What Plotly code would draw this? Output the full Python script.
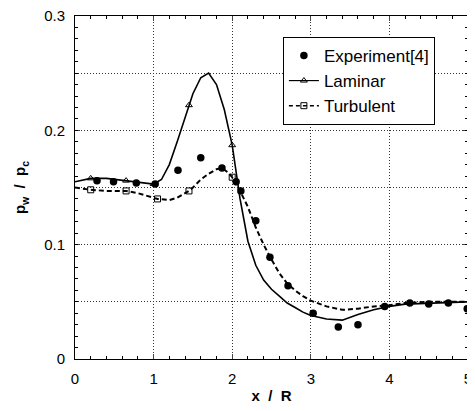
import plotly.graph_objects as go

# Experimental data
exp_x = [0.28, 0.49, 0.78, 1.02, 1.31, 1.60, 1.87, 2.05, 2.11, 2.30, 2.48, 2.71,
         3.03, 3.35, 3.60, 3.94, 4.26, 4.50, 4.75, 4.99]
exp_y = [0.156, 0.155, 0.154, 0.153, 0.165, 0.176, 0.167, 0.155, 0.147, 0.121, 0.089, 0.064,
         0.040, 0.028, 0.030, 0.046, 0.049, 0.048, 0.049, 0.044]

# Laminar computation
lam_x = [0.0, 0.2, 0.4, 0.65, 0.8, 1.0, 1.1, 1.2, 1.3, 1.45, 1.5, 1.6, 1.7, 1.8, 1.9,
         2.0, 2.05, 2.1, 2.2, 2.3, 2.4, 2.5, 2.6, 2.7, 2.8, 2.9, 3.0, 3.2, 3.4, 3.6,
         3.8, 4.0, 4.2, 4.5, 5.0]
lam_y = [0.155, 0.158, 0.158, 0.156, 0.155, 0.153, 0.157, 0.170, 0.190, 0.222, 0.232, 0.246,
         0.250, 0.240, 0.218, 0.187, 0.165, 0.140, 0.103, 0.082, 0.069, 0.061, 0.055, 0.049,
         0.045, 0.041, 0.038, 0.035, 0.034, 0.039, 0.043, 0.046, 0.048, 0.049, 0.050]
lam_marker_idx = [1, 3, 5, 9, 15]

# Turbulent computation
tur_x = [0.0, 0.2, 0.4, 0.65, 0.8, 1.05, 1.2, 1.3, 1.45, 1.5, 1.6, 1.7, 1.8, 1.87, 1.95,
         2.0, 2.1, 2.2, 2.3, 2.4, 2.5, 2.6, 2.7, 2.8, 2.9, 3.0, 3.2, 3.4, 3.6, 3.8,
         4.0, 4.2, 4.5, 5.0]
tur_y = [0.150, 0.148, 0.147, 0.147, 0.145, 0.140, 0.139, 0.141, 0.147, 0.150, 0.157, 0.162,
         0.166, 0.167, 0.163, 0.159, 0.147, 0.133, 0.115, 0.100, 0.087, 0.075, 0.066, 0.060,
         0.055, 0.051, 0.046, 0.043, 0.044, 0.046, 0.047, 0.049, 0.050, 0.050]
tur_marker_idx = [1, 3, 5, 8, 15]

x_ticks = [0, 1, 2, 3, 4, 5]
y_ticks = [0, 0.1, 0.2, 0.3]
y_ticktext = ["0", "0.1", "0.2", "0.3"]
y_minor_grid = [0.05, 0.15, 0.25]

fig = go.Figure()

fig.add_trace(go.Scatter(x=lam_x, y=lam_y, mode="lines", showlegend=False,
                         line=dict(color="black", width=1.6)))
fig.add_trace(go.Scatter(x=[lam_x[i] for i in lam_marker_idx], y=[lam_y[i] for i in lam_marker_idx],
                         mode="markers", showlegend=False,
                         marker=dict(symbol="triangle-up-open", size=6, color="black",
                                     line=dict(width=1))))
fig.add_trace(go.Scatter(x=tur_x, y=tur_y, mode="lines", showlegend=False,
                         line=dict(color="black", width=2, dash="5px,3px")))
fig.add_trace(go.Scatter(x=[tur_x[i] for i in tur_marker_idx], y=[tur_y[i] for i in tur_marker_idx],
                         mode="markers", showlegend=False,
                         marker=dict(symbol="square-open", size=6, color="black",
                                     line=dict(width=1))))
fig.add_trace(go.Scatter(x=exp_x, y=exp_y, mode="markers", name="Experiment[4]",
                         marker=dict(symbol="circle", size=7.5, color="black")))
# legend entries
fig.add_trace(go.Scatter(x=[None], y=[None], mode="lines+markers", name="Laminar",
                         line=dict(color="black", width=1.2),
                         marker=dict(symbol="triangle-up-open", size=6, color="black")))
fig.add_trace(go.Scatter(x=[None], y=[None], mode="lines+markers", name="Turbulent",
                         line=dict(color="black", width=1.5, dash="4px,3px"),
                         marker=dict(symbol="square-open", size=6, color="black")))
# carrier for the minor-tick overlay axis
fig.add_trace(go.Scatter(x=[None], y=[None], yaxis="y2", showlegend=False, hoverinfo="skip"))

GRIDC = "#333"
GRIDDASH = "1px,2px"

fig.update_layout(
    width=467, height=403,
    margin=dict(l=67, r=7, t=8, b=52),
    paper_bgcolor="white", plot_bgcolor="white",
    font=dict(family="Liberation Sans, Arial, sans-serif", size=15, color="black"),
    showlegend=True,
    legend=dict(x=0.529, y=0.939, xanchor="left", yanchor="top",
                bgcolor="white", bordercolor="black", borderwidth=1,
                font=dict(size=17), tracegroupgap=0),
    xaxis=dict(range=[0, 5], tickvals=x_ticks, ticks="inside", ticklen=5,
               showline=True, linecolor="black", linewidth=1, mirror="ticks",
               zeroline=False, ticklabelstandoff=6, ticklabeloverflow="allow",
               showgrid=True, gridcolor=GRIDC, griddash=GRIDDASH, gridwidth=1,
               minor=dict(dtick=0.2, ticks="inside", ticklen=3, tickcolor="black", showgrid=False),
               title=dict(text="<b>x&nbsp; / &nbsp;R</b>", font=dict(size=15), standoff=4),
               automargin=False),
    yaxis=dict(range=[0, 0.3], tickvals=y_ticks, ticktext=y_ticktext,
               ticks="inside", ticklen=5,
               showline=True, linecolor="black", linewidth=1, mirror="ticks",
               zeroline=False, ticklabelstandoff=6, ticklabeloverflow="allow",
               showgrid=True, gridcolor=GRIDC, griddash=GRIDDASH, gridwidth=1,
               minor=dict(tickvals=y_minor_grid, ticks="", showgrid=True,
                          gridcolor=GRIDC, griddash=GRIDDASH, gridwidth=1),
               title=dict(text="<b>p<sub>w</sub>&nbsp; / &nbsp;p<sub>c</sub></b>",
                          font=dict(size=15), standoff=14),
               automargin=False),
    yaxis2=dict(range=[0, 0.3], overlaying="y", side="left", anchor="x",
                tick0=0, dtick=0.01, ticks="inside", ticklen=3, tickcolor="black",
                showticklabels=False, showgrid=False, zeroline=False,
                showline=True, linecolor="black", linewidth=1, mirror="ticks"),
)

fig.write_html("out.html")
